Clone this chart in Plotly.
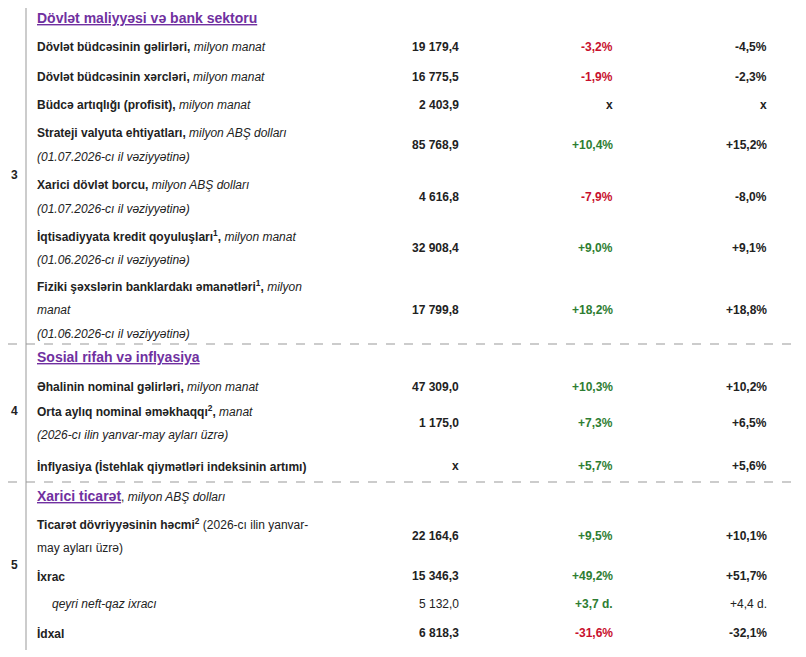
import plotly.graph_objects as go

FONT = "Liberation Sans, Arial, sans-serif"
DARK = "#222222"
RED = "#c8102e"
GREEN = "#2e7d32"
PURPLE = "#7030a0"

# section headers: (title, suffix)
sections = [
    ("Dövlət maliyyəsi və bank sektoru", ""),
    ("Sosial rifah və inflyasiya", ""),
    ("Xarici ticarət", ", <i>milyon ABŞ dolları</i>"),
]
section_numbers = ["3", "4", "5"]

# rows: label lines, value, change vs previous, comparison
labels = [
    ["<b>Dövlət büdcəsinin gəlirləri,</b> <i>milyon manat</i>"],
    ["<b>Dövlət büdcəsinin xərcləri,</b> <i>milyon manat</i>"],
    ["<b>Büdcə artıqlığı (profisit),</b> <i>milyon manat</i>"],
    ["<b>Strateji valyuta ehtiyatları,</b> <i>milyon ABŞ dolları</i>", "<i>(01.07.2026-cı il vəziyyətinə)</i>"],
    ["<b>Xarici dövlət borcu,</b> <i>milyon ABŞ dolları</i>", "<i>(01.07.2026-cı il vəziyyətinə)</i>"],
    ["<b>İqtisadiyyata kredit qoyuluşları<sup>1</sup>,</b> <i>milyon manat</i>", "<i>(01.06.2026-cı il vəziyyətinə)</i>"],
    ["<b>Fiziki şəxslərin banklardakı əmanətləri<sup>1</sup>,</b> <i>milyon</i>", "<i>manat</i>", "<i>(01.06.2026-cı il vəziyyətinə)</i>"],
    ["<b>Əhalinin nominal gəlirləri,</b> <i>milyon manat</i>"],
    ["<b>Orta aylıq nominal əməkhaqqı<sup>2</sup>,</b> <i>manat</i>", "<i>(2026-cı ilin yanvar-may ayları üzrə)</i>"],
    ["<b>İnflyasiya (İstehlak qiymətləri indeksinin artımı)</b>"],
    ["<b>Ticarət dövriyyəsinin həcmi<sup>2</sup></b> (2026-cı ilin yanvar-", "may ayları üzrə)"],
    ["<b>İxrac</b>"],
    ["<i>qeyri neft-qaz ixracı</i>"],
    ["<b>İdxal</b>"],
]
values = ["19 179,4", "16 775,5", "2 403,9", "85 768,9", "4 616,8", "32 908,4", "17 799,8",
          "47 309,0", "1 175,0", "x", "22 164,6", "15 346,3", "5 132,0", "6 818,3"]
changes = ["-3,2%", "-1,9%", "x", "+10,4%", "-7,9%", "+9,0%", "+18,2%",
           "+10,3%", "+7,3%", "+5,7%", "+9,5%", "+49,2%", "+3,7 d.", "-31,6%"]
compare = ["-4,5%", "-2,3%", "x", "+15,2%", "-8,0%", "+9,1%", "+18,8%",
           "+10,2%", "+6,5%", "+5,6%", "+10,1%", "+51,7%", "+4,4 d.", "-32,1%"]
plain_value = [False] * 12 + [True, False]

# layout positions (pixels); page body adds an 8px offset
OFF = 8
header_y = [18, 357, 496]
number_y = [175, 411, 565]
row_top = [47, 77, 105, 133, 185, 236, 286, 387, 411, 466, 524, 576, 604, 633]
line_gap = 24
separators = [344, 482]

fig = go.Figure()
ann = []


def add(x, y, text, anchor="left", color=DARK, size=12):
    ann.append(dict(x=x - OFF, y=y - OFF, text=text, showarrow=False, xanchor=anchor,
                    yanchor="middle", font=dict(family=FONT, size=size, color=color)))


for (title, suffix), y in zip(sections, header_y):
    text = f"<b><u>{title}</u></b>"
    if suffix:
        text += f"<span style='font-size:12px;color:{DARK}'>{suffix}</span>"
    add(35, y, text, color=PURPLE, size=14)

for n, y in zip(section_numbers, number_y):
    add(14, y, f"<b>{n}</b>", anchor="center")


def color_of(s):
    return RED if s.startswith("-") else GREEN if s.startswith("+") else DARK


def bold(s, plain):
    return s if plain else f"<b>{s}</b>"


for i, lines in enumerate(labels):
    top = row_top[i]
    x0 = 50 if plain_value[i] else 35
    for k, line in enumerate(lines):
        add(x0, top + k * line_gap, line)
    mid = top + (len(lines) - 1) * line_gap / 2
    add(461, mid, bold(values[i], plain_value[i]), anchor="right")
    add(615, mid, f"<b>{changes[i]}</b>", anchor="right", color=color_of(changes[i]))
    add(769, mid, bold(compare[i], plain_value[i]), anchor="right")

shapes = [
    dict(type="line", x0=26 - OFF, x1=26 - OFF, y0=0, y1=650 - OFF, line=dict(color="#999999", width=1)),
    dict(type="line", x0=468 - OFF, x1=777 - OFF, y0=5 - OFF, y1=5 - OFF, line=dict(color="#999999", width=1)),
]
for y in separators:
    shapes.append(dict(type="line", x0=0, x1=806, y0=y - OFF, y1=y - OFF,
                       line=dict(color="#999999", width=1, dash="dash")))

fig.update_layout(
    width=806, height=657, margin=dict(l=0, r=0, t=0, b=0),
    paper_bgcolor="white", plot_bgcolor="white",
    xaxis=dict(range=[0, 806], visible=False, fixedrange=True),
    yaxis=dict(range=[657, 0], visible=False, fixedrange=True),
    annotations=ann, shapes=shapes, showlegend=False,
)
fig.write_html("out.html")
